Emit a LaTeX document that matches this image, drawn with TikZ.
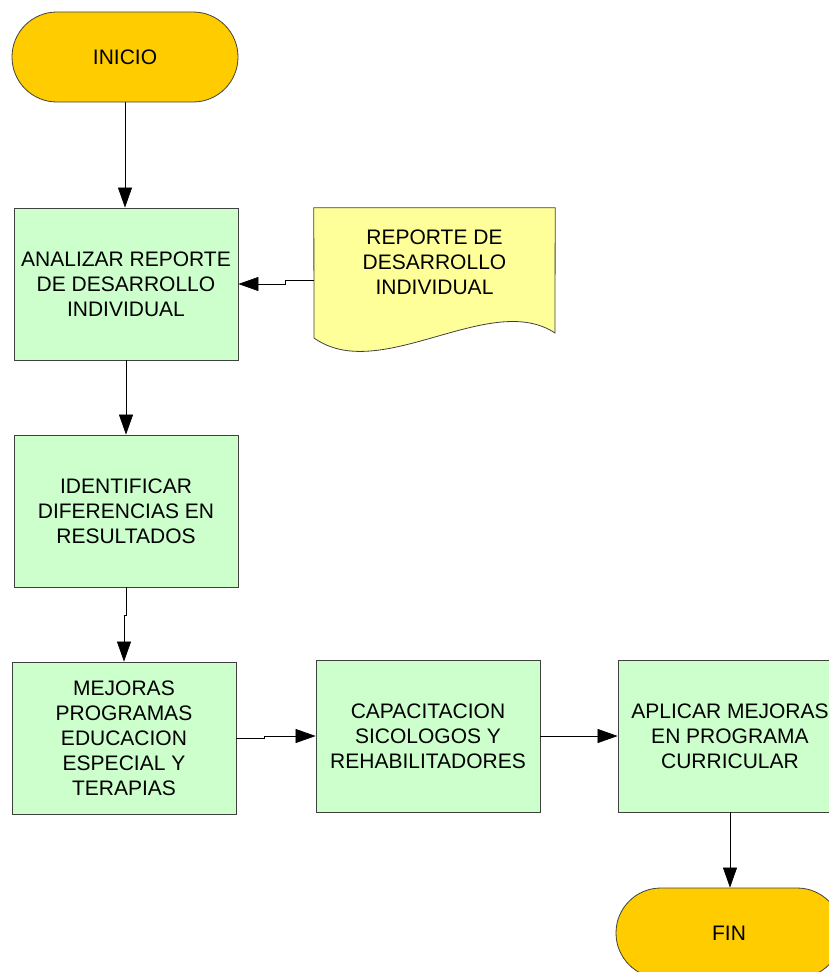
\documentclass[tikz,border=0pt]{standalone}
\usepackage{fontspec}
\setmainfont{Liberation Sans}
\usetikzlibrary{arrows.meta}
\definecolor{termfill}{HTML}{FFCC00}
\definecolor{boxfill}{HTML}{CCFFCC}
\definecolor{docfill}{HTML}{FFFF99}
\definecolor{edge}{HTML}{404040}
\begin{document}
\begin{tikzpicture}[x=1pt,y=-1pt,
  every node/.style={font=\fontsize{21}{25}\selectfont, align=center, inner sep=0pt},
  term/.style={draw=edge, fill=termfill, line width=0.8pt, minimum width=226pt, minimum height=90pt, rounded corners=44.9pt},
  procbox/.style={draw=edge, fill=boxfill, line width=0.8pt, minimum width=224pt, minimum height=152pt},
  docshape/.style={minimum width=241pt, minimum height=144pt},
  conn/.style={draw=black, line width=0.7pt, -{Triangle[length=20pt,width=14pt]}}
]
\useasboundingbox (0,0) rectangle (829,972);
\node[term] (inicio) at (125,57) {INICIO};
\node[procbox] (box1) at (126,284) {ANALIZAR REPORTE\\DE DESARROLLO\\INDIVIDUAL};
\node[docshape] (doc) at (434.5,280) {};
\draw[edge, fill=docfill, line width=0.8pt] (doc.north west) -- (doc.north east) -- (555,333)
  .. controls (490,290) and (380,385) .. (314,338) -- cycle;
\node (doctext) at (434.5,262) {REPORTE DE\\DESARROLLO\\INDIVIDUAL};
\node[procbox] (box2) at (126,511) {IDENTIFICAR\\DIFERENCIAS EN\\RESULTADOS};
\node[procbox] (box3) at (124,738) {MEJORAS\\PROGRAMAS\\EDUCACION\\ESPECIAL Y\\TERAPIAS};
\node[procbox] (box4) at (428,736) {CAPACITACION\\SICOLOGOS Y\\REHABILITADORES};
\node[procbox] (box5) at (730,736) {APLICAR MEJORAS\\EN PROGRAMA\\CURRICULAR};
\node[term] (fin) at (729,933) {FIN};

\draw[conn] (inicio.south) -- (inicio.south |- box1.north);
\draw[conn] (doc.west) -- ++(-28,0) |- (box1.east);
\draw[conn] (box1.south) -- (box2.north);
\draw[conn] (box2.south) -- ++(0,28) -| (box3.north);
\draw[conn] (box3.east) -- ++(28,0) |- (box4.west);
\draw[conn] (box4.east) -- (box5.west);
\draw[conn] (box5.south) -- (box5.south |- fin.north);
\end{tikzpicture}
\end{document}
